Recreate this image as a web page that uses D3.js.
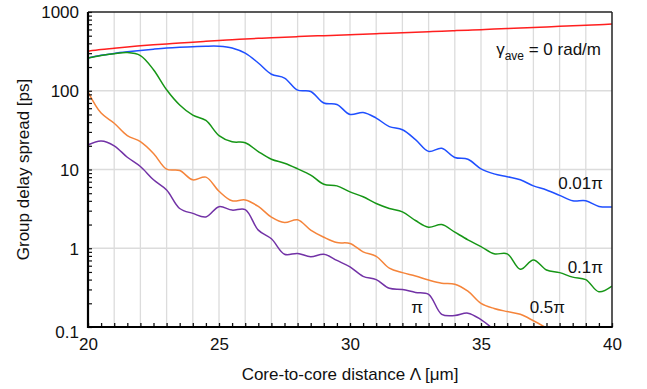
<!DOCTYPE html>
<html><head><meta charset="utf-8">
<script src="https://cdn.jsdelivr.net/npm/d3@7"></script>
<style>
html,body{margin:0;padding:0;background:#fff;}
svg text{font-family:"Liberation Sans",Arial,sans-serif;fill:#111;}
</style></head>
<body><svg id="c" width="647" height="389"></svg>
<script>
// Core-to-core distance (µm)
const lambda = d3.range(20, 40.001, 0.5);
// Group delay spread [ps] for each gamma_ave
const gamma0 = [318,333,346,360,372,383,393,404,414,425,436,445,454,463,471,479,487,494,501,508,515,523,530,538,546,554,562,571,580,588,597,607,617,627,637,647,658,669,680,691,703];
const gamma001pi = [260,282,298,312,325,337,348,356,362,368,368,350,300,225,162,145,102,98,70,67,50,53,45,35,32,24,17,18.6,14.2,13.5,10.2,8.8,8.1,7.4,6.2,5.5,4.7,4.0,4.0,3.4,3.35];
const gamma01pi = [260,280,295,305,280,185,103,66,49,42,27,22.5,21.9,16.9,13.5,12.0,10.2,8.5,6.5,6.2,5.2,4.5,3.7,3.2,2.9,2.25,1.85,2.0,1.6,1.28,1.05,0.85,0.85,0.54,0.71,0.53,0.49,0.43,0.40,0.28,0.33];
const gamma05pi = [97,52,38.7,27,22.6,16,10.1,9.7,7.4,8.0,5.3,4.0,4.1,3.4,2.48,2.12,2.3,1.7,1.38,1.18,1.15,0.9,0.79,0.56,0.49,0.445,0.395,0.36,0.35,0.285,0.2,0.172,0.157,0.145,0.12,0.097,null,null,null,null,null];
const gammaPi = [20.5,23,20,14.3,10.9,7.4,5.5,3.2,2.77,2.5,3.37,3.05,3.1,1.7,1.32,0.84,0.86,0.78,0.84,0.7,0.58,0.44,0.4,0.31,0.3,0.275,0.26,0.145,0.14,0.15,0.124,0.092,null,null,null,null,null,null,null,null,null];

const seriesNames = ["gamma0","gamma001pi","gamma01pi","gamma05pi","gammaPi"];
const seriesValues = [gamma0,gamma001pi,gamma01pi,gamma05pi,gammaPi];
const seriesColors = ["#ff1f1f","#1f4fff","#169616","#f5843a","#7232a6"];

const xTickLabels = [20,25,30,35,40];
const yTickLabels = [0.1,1,10,100,1000];
const curveLabels = [
  {text:"0.01π", x:40, y:3.4},
  {text:"0.1π", x:40, y:0.33},
  {text:"0.5π", x:37.5, y:0.1},
  {text:"π", x:33.5, y:0.1}
];

const W=647,H=389, L=88, R=612, T=12, B=327;
const svg = d3.select("#c");
const x = d3.scaleLinear().domain([20,40]).range([L,R]);
const y = d3.scaleLog().domain([0.1,1000]).range([B,T]);

// grid
const g = svg.append("g");
g.selectAll(".vg").data(d3.range(21,40)).join("line")
  .attr("x1",d=>x(d)).attr("x2",d=>x(d)).attr("y1",T).attr("y2",B)
  .attr("stroke","#dcdcdc").attr("stroke-width",1.3);
g.selectAll(".hg").data([1,10,100]).join("line")
  .attr("x1",L).attr("x2",R).attr("y1",d=>y(d)).attr("y2",d=>y(d))
  .attr("stroke","#dcdcdc").attr("stroke-width",1.5);

// clip
svg.append("clipPath").attr("id","clip").append("rect")
  .attr("x",L).attr("y",T).attr("width",R-L).attr("height",B-T);

const line = d3.line()
  .defined(d=>d[1]!=null)
  .x(d=>x(d[0])).y(d=>y(d[1]))
  .curve(d3.curveCatmullRom.alpha(0.5));

const lg = svg.append("g").attr("clip-path","url(#clip)");
seriesValues.forEach((vals,i)=>{
  lg.append("path").datum(lambda.map((l,j)=>[l,vals[j]]))
    .attr("d",line).attr("fill","none")
    .attr("stroke",seriesColors[i]).attr("stroke-width",1.5);
});

// frame top/right
svg.append("line").attr("x1",L).attr("x2",R).attr("y1",T).attr("y2",T).attr("stroke","#222").attr("stroke-width",1.5);
svg.append("line").attr("x1",R).attr("x2",R).attr("y1",T).attr("y2",B).attr("stroke","#222").attr("stroke-width",1.5);

// bottom axis ticks (inside)
const xb = svg.append("g").attr("transform",`translate(0,${B})`)
  .call(d3.axisBottom(x).tickValues(d3.range(20,40.001,0.5)).tickSize(-4).tickFormat(""));
xb.select(".domain").remove();
xb.selectAll(".tick line").attr("stroke","#111").attr("stroke-width",1.3);
const xl = svg.append("g").attr("transform",`translate(0,${B})`)
  .call(d3.axisBottom(x).tickValues(xTickLabels).tickSize(0).tickPadding(11).tickFormat(d3.format("d")));
xl.select(".domain").remove();
xl.selectAll("text").attr("font-size",17).attr("font-family","Liberation Sans, Arial, sans-serif").attr("fill","#111");

// left axis minor ticks
const minor = [];
for (let e=-1;e<3;e++) for (let k=1;k<10;k++) minor.push(k*Math.pow(10,e));
minor.push(1000);
const yb = svg.append("g").attr("transform",`translate(${L},0)`)
  .call(d3.axisLeft(y).tickValues(minor).tickSize(-4).tickFormat(""));
yb.select(".domain").remove();
yb.selectAll(".tick line").attr("stroke","#111").attr("stroke-width",1.2);
const yl = svg.append("g").attr("transform",`translate(${L},0)`)
  .call(d3.axisLeft(y).tickValues(yTickLabels).tickSize(0).tickPadding(9).tickFormat(d=>d<1?"0.1":d3.format("d")(d)));
yl.select(".domain").remove();
yl.selectAll("text").attr("font-size",17).attr("font-family","Liberation Sans, Arial, sans-serif").attr("fill","#111")
  .attr("dy",d=>d<1?"0.62em":"0.34em");

// axis lines
svg.append("line").attr("x1",L).attr("x2",L).attr("y1",T).attr("y2",B+1).attr("stroke","#000").attr("stroke-width",2.2);
svg.append("line").attr("x1",L-1).attr("x2",R+0.75).attr("y1",B).attr("y2",B).attr("stroke","#000").attr("stroke-width",2.2);

// titles
svg.append("text").attr("x",(L+R)/2).attr("y",380).attr("text-anchor","middle").attr("font-size",17)
  .text("Core-to-core distance Λ [μm]");
svg.append("text").attr("transform",`translate(29,${(T+B)/2}) rotate(-90)`).attr("text-anchor","middle").attr("font-size",17)
  .text("Group delay spread [ps]");

// gamma label
const gl = svg.append("text").attr("x",601).attr("y",55).attr("text-anchor","end").attr("font-size",17);
gl.append("tspan").text("γ");
gl.append("tspan").attr("font-size",12).attr("dy",5).text("ave");
gl.append("tspan").attr("dy",-5).text(" = 0 rad/m");

// curve labels
const lblPos = [
  {dx:-9, dy:189, anchor:"end"},
  {dx:-9, dy:273, anchor:"end"},
  {dx:0, dy:313, anchor:"end"},
  {dx:0, dy:313, anchor:"middle"}
];
const lblX = [603, 603, 565, 417];
curveLabels.forEach((c,i)=>{
  svg.append("text").attr("x",lblX[i]).attr("y",lblPos[i].dy)
    .attr("text-anchor",lblPos[i].anchor).attr("font-size",17).text(c.text);
});
</script></body></html>
